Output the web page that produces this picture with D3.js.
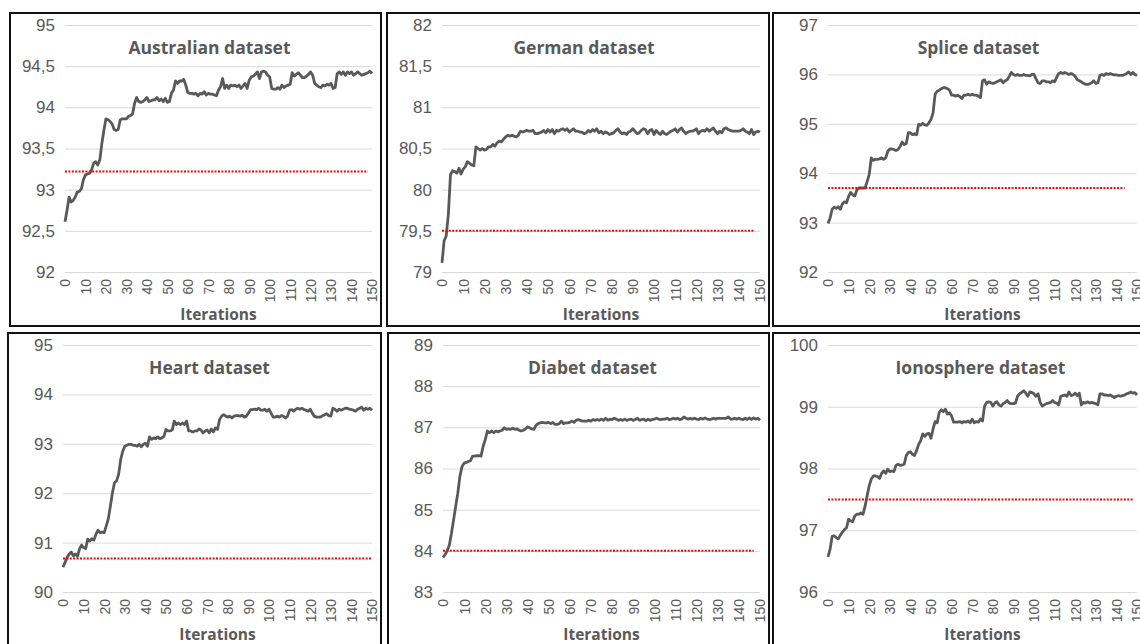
<!DOCTYPE html>
<html>
<head>
<meta charset="utf-8">
<script src="https://cdn.jsdelivr.net/npm/d3@7"></script>
<style>
  body { margin:0; background:#fff; }
  svg { display:block; font-family:"Open Sans", sans-serif; }
  .grid line { stroke:#d9d9d9; stroke-width:1; }
  .grid path, .axis path, .axis line { display:none; }
  .axis text { fill:#595959; }
  .chart-title { fill:#595959; font-weight:700; font-size:17.5px; }
  .axis-title { fill:#595959; font-weight:700; font-size:15.5px; }
</style>
</head>
<body>
<svg id="chart" width="1140" height="644"></svg>
<script>
// x categories and labels
const iterations   = d3.range(0, 151);
const xTickLabels  = [0, 10, 20, 30, 40, 50, 60, 70, 80, 90, 100, 110, 120, 130, 140, 150];

// accuracy per iteration
const australian = [
  92.61,92.75,92.91,92.85,92.87,92.91,92.97,92.98,93.01,93.12,
  93.18,93.19,93.20,93.24,93.32,93.34,93.30,93.36,93.56,93.72,
  93.86,93.85,93.83,93.80,93.73,93.72,93.73,93.85,93.86,93.86,
  93.86,93.89,93.90,93.92,94.05,94.12,94.07,94.06,94.07,94.09,
  94.12,94.07,94.08,94.09,94.09,94.12,94.08,94.10,94.07,94.11,
  94.06,94.07,94.17,94.21,94.32,94.29,94.32,94.32,94.34,94.27,
  94.18,94.17,94.17,94.16,94.17,94.14,94.17,94.16,94.19,94.15,
  94.17,94.16,94.16,94.15,94.14,94.21,94.25,94.35,94.23,94.27,
  94.23,94.27,94.26,94.27,94.25,94.27,94.23,94.26,94.29,94.23,
  94.33,94.37,94.38,94.40,94.43,94.35,94.43,94.44,94.43,94.39,
  94.37,94.23,94.22,94.22,94.24,94.22,94.27,94.24,94.26,94.27,
  94.28,94.42,94.38,94.40,94.42,94.39,94.36,94.36,94.38,94.40,
  94.43,94.39,94.29,94.27,94.25,94.24,94.27,94.26,94.28,94.27,
  94.29,94.23,94.24,94.41,94.43,94.40,94.43,94.39,94.43,94.41,
  94.43,94.39,94.41,94.43,94.41,94.39,94.40,94.41,94.42,94.44,
  94.41
];
const german = [
  79.11,79.38,79.44,79.70,80.18,80.23,80.22,80.20,80.26,80.19,
  80.25,80.28,80.34,80.32,80.30,80.29,80.52,80.50,80.48,80.50,
  80.48,80.49,80.52,80.52,80.55,80.53,80.57,80.59,80.58,80.61,
  80.64,80.66,80.65,80.66,80.65,80.64,80.66,80.71,80.70,80.71,
  80.72,80.71,80.71,80.72,80.68,80.68,80.69,80.70,80.72,80.69,
  80.73,80.70,80.73,80.68,80.72,80.71,80.73,80.74,80.72,80.74,
  80.70,80.72,80.74,80.71,80.71,80.70,80.70,80.68,80.69,80.72,
  80.70,80.73,80.71,80.74,80.69,80.71,80.68,80.70,80.69,80.67,
  80.68,80.69,80.72,80.74,80.70,80.68,80.69,80.67,80.70,80.71,
  80.74,80.71,80.68,80.69,80.72,80.74,80.73,80.68,80.72,80.73,
  80.67,80.72,80.69,80.67,80.71,80.68,80.67,80.69,80.71,80.72,
  80.74,80.70,80.73,80.75,80.71,80.68,80.70,80.71,80.71,80.72,
  80.74,80.68,80.71,80.72,80.71,80.74,80.71,80.73,80.75,80.71,
  80.68,80.71,80.69,80.74,80.75,80.73,80.72,80.71,80.71,80.71,
  80.71,80.72,80.74,80.71,80.70,80.68,80.73,80.67,80.70,80.71,
  80.70
];
const splice = [
  92.98,93.09,93.27,93.31,93.29,93.32,93.27,93.38,93.42,93.40,
  93.53,93.61,93.56,93.54,93.66,93.70,93.70,93.70,93.70,93.83,
  93.97,94.31,94.26,94.28,94.28,94.29,94.31,94.28,94.31,94.44,
  94.49,94.49,94.48,94.46,94.48,94.54,94.63,94.58,94.60,94.82,
  94.82,94.78,94.80,94.78,94.99,94.97,95.01,94.98,94.97,95.02,
  95.09,95.22,95.60,95.66,95.68,95.71,95.73,95.73,95.71,95.68,
  95.58,95.58,95.56,95.58,95.55,95.51,95.58,95.58,95.60,95.58,
  95.60,95.58,95.58,95.56,95.53,95.87,95.89,95.80,95.85,95.83,
  95.82,95.83,95.85,95.87,95.89,95.83,95.87,95.89,95.96,96.04,
  96.00,95.98,96.00,95.98,95.98,96.00,95.98,95.98,95.97,96.00,
  96.00,95.91,95.83,95.82,95.87,95.87,95.85,95.85,95.83,95.87,
  95.85,95.94,96.02,96.04,96.02,96.04,96.02,96.00,96.02,96.00,
  95.96,95.89,95.87,95.85,95.82,95.80,95.80,95.81,95.83,95.87,
  95.82,95.83,95.98,96.00,95.98,96.02,96.00,96.02,96.00,95.99,
  95.99,95.98,95.98,95.98,96.00,96.02,96.05,96.00,96.04,96.00,
  95.98
];
const heart = [
  90.50,90.60,90.70,90.77,90.81,90.73,90.77,90.72,90.87,90.95,
  90.90,90.88,91.07,91.03,91.08,91.05,91.17,91.25,91.20,91.21,
  91.20,91.34,91.48,91.74,92.01,92.21,92.25,92.38,92.68,92.85,
  92.95,92.97,92.99,92.99,92.97,92.97,92.95,92.99,92.94,92.99,
  93.01,92.95,93.14,93.09,93.12,93.10,93.14,93.10,93.12,93.15,
  93.29,93.26,93.26,93.28,93.46,93.39,93.42,93.39,93.42,93.39,
  93.46,93.26,93.26,93.24,93.26,93.26,93.30,93.28,93.22,93.26,
  93.28,93.22,93.30,93.24,93.32,93.29,93.49,93.56,93.59,93.56,
  93.54,93.56,93.52,93.56,93.57,93.57,93.56,93.58,93.54,93.56,
  93.62,93.69,93.69,93.70,93.69,93.72,93.68,93.68,93.70,93.66,
  93.70,93.62,93.54,93.54,93.56,93.54,93.57,93.56,93.52,93.56,
  93.68,93.69,93.66,93.70,93.72,93.70,93.72,93.69,93.68,93.66,
  93.70,93.62,93.56,93.54,93.54,93.54,93.57,93.59,93.61,93.57,
  93.56,93.72,93.70,93.66,93.70,93.68,93.70,93.72,93.72,93.70,
  93.69,93.68,93.66,93.70,93.72,93.74,93.68,93.72,93.70,93.72,
  93.68
];
const diabet = [
  83.84,83.91,84.00,84.14,84.42,84.75,85.08,85.40,85.81,86.05,
  86.13,86.15,86.17,86.19,86.30,86.30,86.31,86.31,86.30,86.54,
  86.70,86.91,86.87,86.91,86.87,86.91,86.89,86.91,86.93,86.99,
  86.95,86.96,86.95,86.98,86.95,86.96,86.93,86.91,86.93,86.96,
  87.01,86.99,86.96,86.95,87.05,87.09,87.11,87.12,87.11,87.11,
  87.12,87.09,87.12,87.07,87.07,87.09,87.15,87.09,87.11,87.11,
  87.12,87.15,87.12,87.17,87.19,87.17,87.15,87.15,87.15,87.17,
  87.15,87.19,87.17,87.19,87.17,87.20,87.17,87.22,87.17,87.20,
  87.19,87.22,87.20,87.17,87.19,87.17,87.20,87.17,87.19,87.20,
  87.17,87.19,87.22,87.17,87.19,87.20,87.16,87.20,87.17,87.19,
  87.20,87.22,87.20,87.19,87.20,87.20,87.22,87.19,87.20,87.22,
  87.20,87.22,87.19,87.20,87.25,87.22,87.20,87.22,87.20,87.22,
  87.20,87.19,87.22,87.20,87.23,87.20,87.19,87.20,87.22,87.20,
  87.22,87.22,87.22,87.22,87.22,87.25,87.20,87.20,87.22,87.20,
  87.22,87.20,87.19,87.22,87.19,87.23,87.19,87.23,87.20,87.22,
  87.17
];
const ionosphere = [
  96.57,96.69,96.90,96.91,96.88,96.86,96.92,96.97,97.01,97.04,
  97.18,97.15,97.14,97.23,97.26,97.26,97.28,97.26,97.39,97.56,
  97.72,97.83,97.88,97.88,97.87,97.84,97.92,97.96,97.92,97.99,
  97.95,97.96,97.95,98.05,98.07,98.05,98.06,98.07,98.21,98.26,
  98.27,98.23,98.21,98.29,98.39,98.45,98.56,98.52,98.56,98.57,
  98.49,98.64,98.76,98.74,98.91,98.95,98.92,98.96,98.88,98.90,
  98.85,98.75,98.75,98.75,98.76,98.74,98.76,98.75,98.77,98.74,
  98.80,98.74,98.76,98.75,98.80,98.77,99.01,99.07,99.08,99.07,
  99.01,99.06,99.08,99.03,99.01,99.05,99.07,99.10,99.06,99.05,
  99.05,99.06,99.17,99.21,99.23,99.26,99.22,99.17,99.24,99.23,
  99.21,99.17,99.21,99.07,99.01,99.03,99.05,99.06,99.07,99.10,
  99.07,99.06,99.03,99.17,99.18,99.19,99.17,99.24,99.18,99.19,
  99.22,99.18,99.22,99.03,99.07,99.06,99.08,99.06,99.07,99.06,
  99.05,99.03,99.21,99.21,99.19,99.19,99.18,99.19,99.17,99.15,
  99.17,99.18,99.17,99.18,99.19,99.21,99.22,99.24,99.22,99.23,
  99.19
];

// reference (red dotted) levels and where the dotted line stops
const titles        = ['Australian dataset','German dataset','Splice dataset','Heart dataset','Diabet dataset','Ionosphere dataset'];
const seriesList    = [australian, german, splice, heart, diabet, ionosphere];
const baselines     = [93.22, 79.5, 93.7, 90.68, 84.0, 97.5];
const baselineEnds  = [148, 147, 144, 150, 147, 148];
const yTicksList = [
  [92, 92.5, 93, 93.5, 94, 94.5, 95],
  [79, 79.5, 80, 80.5, 81, 81.5, 82],
  [92, 93, 94, 95, 96, 97],
  [90, 91, 92, 93, 94, 95],
  [83, 84, 85, 86, 87, 88, 89],
  [96, 97, 98, 99, 100]
];

// panel boxes on the page
const boxes = [
  { x:10,  y:13,  w:371, h:313, titleDx:-9  },
  { x:387, y:13,  w:382, h:313, titleDx:-17 },
  { x:773, y:13,  w:373, h:313, titleDx:-4  },
  { x:8,   y:333, w:373, h:313, titleDx:-8  },
  { x:388, y:333, w:381, h:313, titleDx:-9  },
  { x:773, y:333, w:373, h:313, titleDx:-2  }
];

const fmt = v => String(v).replace('.', ',');

class LinePanel {
  constructor(_config) {
    this.config = {
      parent:   _config.parent,
      box:      _config.box,
      title:    _config.title,
      values:   _config.values,
      baseline: _config.baseline,
      baseEnd:  _config.baseEnd,
      yTicks:   _config.yTicks,
      margin: { top:12, right:9, bottom:54, left:55 }
    };
    this.initVis();
  }

  initVis() {
    const vis = this;
    const b = vis.config.box, m = vis.config.margin;
    vis.width  = b.w - m.left - m.right;
    vis.height = b.h - m.top - m.bottom;

    vis.g = vis.config.parent.append('g')
      .attr('transform', `translate(${b.x},${b.y})`);

    vis.g.append('rect')
      .attr('x', 0).attr('y', 0)
      .attr('width', b.w).attr('height', b.h)
      .attr('fill', '#fff')
      .attr('stroke', '#111')
      .attr('stroke-width', 2);

    vis.chart = vis.g.append('g')
      .attr('transform', `translate(${m.left},${m.top})`);

    vis.xScale = d3.scaleLinear()
      .domain(d3.extent(iterations))
      .range([0, vis.width]);

    vis.yScale = d3.scaleLinear()
      .domain(d3.extent(vis.config.yTicks))
      .range([vis.height, 0]);

    vis.chart.append('text')
      .attr('class', 'chart-title')
      .attr('x', vis.width / 2 + b.titleDx)
      .attr('y', 29)
      .style('text-anchor', 'middle')
      .text(vis.config.title);

    vis.chart.append('text')
      .attr('class', 'axis-title')
      .attr('x', vis.width / 2)
      .attr('y', vis.height + 48)
      .style('text-anchor', 'middle')
      .text('Iterations');
  }

  renderVis() {
    const vis = this;

    vis.chart.insert('g', ':first-child')
      .attr('class', 'grid')
      .call(d3.axisLeft(vis.yScale).tickValues(vis.config.yTicks).tickSize(-vis.width).tickFormat(''));

    const yAxisG = vis.chart.append('g')
      .attr('class', 'axis')
      .call(d3.axisLeft(vis.yScale).tickValues(vis.config.yTicks).tickSize(0).tickPadding(10).tickFormat(fmt));
    yAxisG.selectAll('text').style('font-size', '17px');

    const xAxisG = vis.chart.append('g')
      .attr('class', 'axis')
      .attr('transform', `translate(0,${vis.height})`)
      .call(d3.axisBottom(vis.xScale).tickValues(xTickLabels).tickSize(0));
    xAxisG.selectAll('text')
      .style('font-size', '14px')
      .style('text-anchor', 'end')
      .attr('transform', 'rotate(-90)')
      .attr('x', -7)
      .attr('y', 0)
      .attr('dy', '0.35em');

    const line = d3.line()
      .x((d, i) => vis.xScale(iterations[i]))
      .y(d => vis.yScale(d));

    vis.chart.append('path')
      .datum(vis.config.values)
      .attr('fill', 'none')
      .attr('stroke', '#595959')
      .attr('stroke-width', 2.8)
      .attr('stroke-linejoin', 'round')
      .attr('d', line);

    vis.chart.append('line')
      .attr('x1', vis.xScale(0))
      .attr('x2', vis.xScale(vis.config.baseEnd))
      .attr('y1', vis.yScale(vis.config.baseline))
      .attr('y2', vis.yScale(vis.config.baseline))
      .attr('stroke', '#ff0000')
      .attr('stroke-width', 2)
      .attr('stroke-dasharray', '2,1.4');
  }
}

const svg = d3.select('#chart');
titles.forEach((t, i) => {
  const p = new LinePanel({
    parent:   svg,
    box:      boxes[i],
    title:    t,
    values:   seriesList[i],
    baseline: baselines[i],
    baseEnd:  baselineEnds[i],
    yTicks:   yTicksList[i]
  });
  p.renderVis();
});
</script>
</body>
</html>
